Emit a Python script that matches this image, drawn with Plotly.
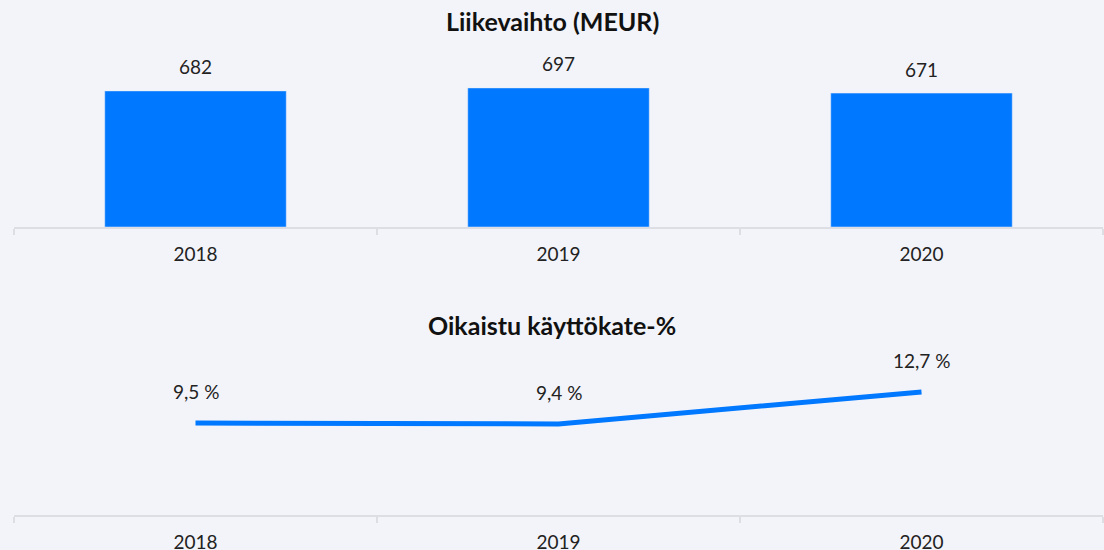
import plotly.graph_objects as go

# Data
vuodet = ['2018', '2019', '2020']
liikevaihto = [682, 697, 671]
kayttokate = [9.5, 9.4, 12.7]
kayttokate_txt = ['9,5 %', '9,4 %', '12,7 %']

SININEN = '#0078ff'
TAUSTA = '#f3f4f9'
AKSELI = '#dcdee4'
FONTTI = 'Lato, Open Sans, sans-serif'

fig = go.Figure()

fig.add_trace(go.Bar(
    x=vuodet, y=liikevaihto,
    marker_color=SININEN, width=0.5,
    xaxis='x', yaxis='y', hoverinfo='x+y'
))

fig.add_trace(go.Scatter(
    x=vuodet, y=kayttokate,
    mode='lines',
    line=dict(color=SININEN, width=5),
    xaxis='x2', yaxis='y2'
))

# Arvojen tekstit (kategoria-akselilla x annetaan indeksinä)
for i, arvo in enumerate(liikevaihto):
    fig.add_annotation(x=i, y=arvo, xref='x', yref='y', text=str(arvo),
                       showarrow=False, yshift=24,
                       font=dict(size=19, color='#222222'))

for i, (arvo, t) in enumerate(zip(kayttokate, kayttokate_txt)):
    fig.add_annotation(x=i, y=arvo, xref='x2', yref='y2', text=t,
                       showarrow=False, yshift=31,
                       font=dict(size=19, color='#222222'))

# Otsikot
fig.add_annotation(x=0.5, y=1 - 21 / 550, xref='paper', yref='paper',
                   yanchor='middle',
                   text='<b>Liikevaihto (MEUR)</b>', showarrow=False,
                   font=dict(size=25, color='#111111'))
fig.add_annotation(x=0.5, y=1 - 325 / 550, xref='paper', yref='paper',
                   yanchor='middle',
                   text='<b>Oikaistu käyttökate-%</b>', showarrow=False,
                   font=dict(size=25, color='#111111'))


def x_akseli(ankkuri):
    return dict(
        domain=[14 / 1104, 1103 / 1104],
        type='category',
        categoryorder='array', categoryarray=vuodet,
        range=[-0.5, 2.5], autorange=False,
        showline=True, linecolor=AKSELI, linewidth=2,
        ticks='outside', tickson='boundaries', ticklen=6, tickwidth=2,
        tickcolor=AKSELI, showgrid=False, zeroline=False,
        tickangle=0, automargin=False, ticklabelstandoff=9,
        tickfont=dict(size=19, color='#222222'),
        anchor=ankkuri,
    )


fig.update_layout(
    width=1104, height=550,
    margin=dict(l=0, r=0, t=0, b=0),
    paper_bgcolor=TAUSTA, plot_bgcolor=TAUSTA,
    font=dict(family=FONTTI),
    showlegend=False,
    xaxis=x_akseli('y'),
    yaxis=dict(domain=[1 - 227 / 550, 1 - 50 / 550], range=[0, 887],
               visible=False, anchor='x'),
    xaxis2=x_akseli('y2'),
    yaxis2=dict(domain=[1 - 515 / 550, 1 - 360 / 550], range=[0, 16],
                visible=False, anchor='x2'),
)

# sivun oletusmarginaali pois, jotta kuva alkaa vasemmasta yläkulmasta
fig.write_html("out.html",
               config={'displayModeBar': False},
               post_script="document.body.style.margin='0';"
                           "document.body.style.background='#f3f4f9';")
